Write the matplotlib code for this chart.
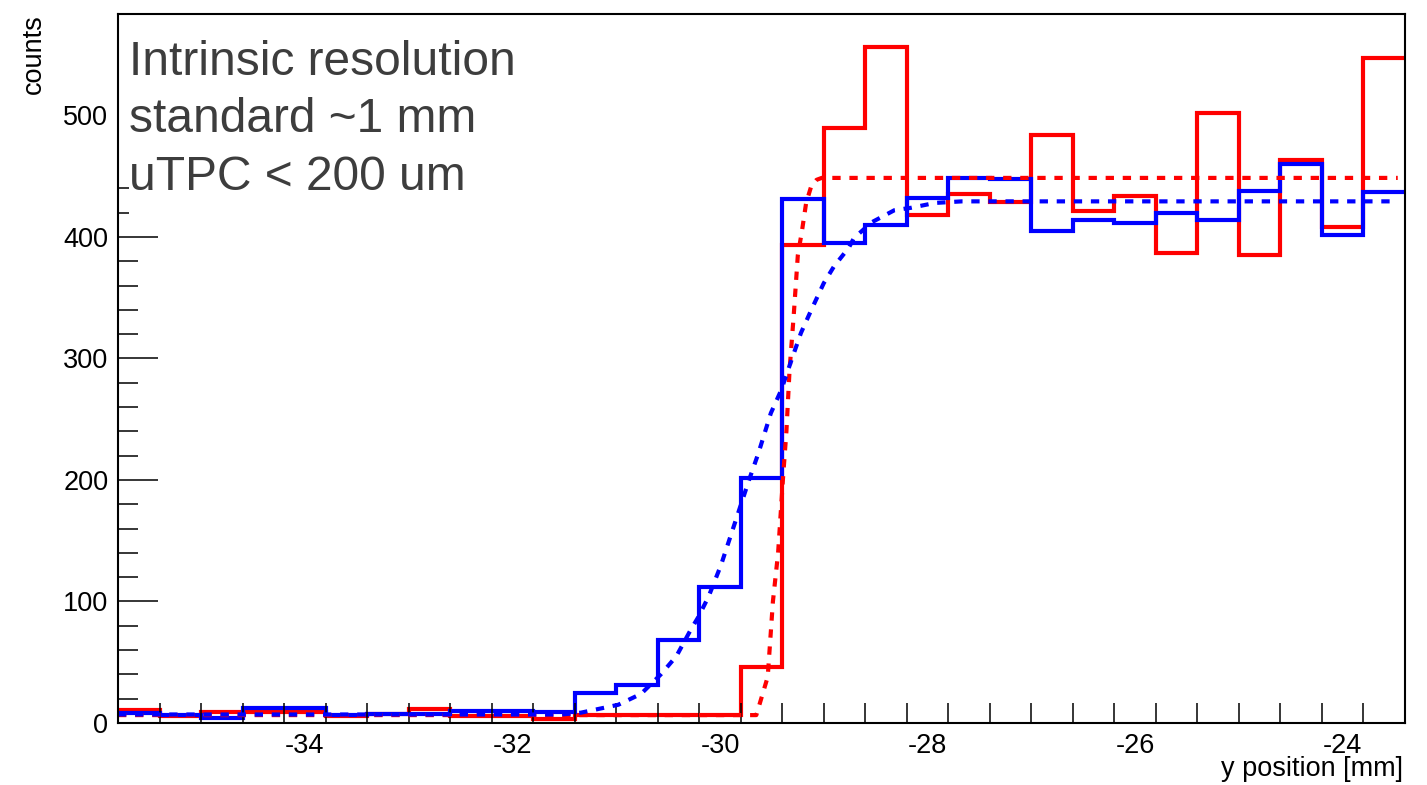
import numpy as np
import matplotlib
matplotlib.use('Agg')
import matplotlib.pyplot as plt
from matplotlib.ticker import FixedLocator, NullFormatter

plt.rcParams['font.family'] = ['Liberation Sans', 'DejaVu Sans']
plt.rcParams['axes.unicode_minus'] = False

# 31 bins of 0.4 mm
bin_edges = np.round(np.arange(-35.8, -23.39, 0.4), 2)

red_counts = [11, 6, 8.7, 8.7, 9, 6, 7, 11.8, 5.5, 5.5, 3.5,
              6.5, 6.5, 6.5, 6.5, 46, 393, 490, 556, 418, 435,
              428.5, 484, 421, 434, 387, 502, 385, 463, 408, 547]
blue_counts = [8.2, 6.5, 4, 12.3, 12.3, 6.5, 7.4, 7.4, 9.6, 10, 8.7,
               24.5, 31, 68.5, 112, 202, 431, 395, 409.5, 432, 448.6,
               447.4, 404.6, 414.2, 411.5, 419.7, 413.7, 438, 460.3, 401.3, 437]

# fit curves
red_fit_x = [-35.8, -29.80, -29.65, -29.54, -29.49, -29.44, -29.39, -29.36, -29.33,
             -29.29, -29.25, -29.21, -29.17, -29.12, -29.07, -29.02, -23.47]
red_fit_y = [6.5, 6.5, 6.5, 38, 100, 140, 205, 240, 290,
             335, 385, 405, 428, 442, 447, 448.6, 448.6]
blue_fit_x = [-35.8, -31.53, -31.34, -30.98, -30.76, -30.57, -30.42, -30.28, -30.21,
              -30.11, -29.99, -29.72, -29.63, -29.51, -29.41, -29.31, -29.22, -29.12,
              -29.00, -28.90, -28.76, -28.71, -28.54, -28.32, -28.16, -27.93, -27.67, -23.47]
blue_fit_y = [7, 7, 8.5, 15, 24, 40, 55, 77, 87,
              104, 130, 200, 222, 255, 274, 299, 321, 340,
              362, 376, 391, 399, 412, 422, 424, 428, 429.3, 429.3]

xtick_vals = [-34, -32, -30, -28, -26, -24]
ytick_vals = [0, 100, 200, 300, 400, 500]
ytick_minor = [20, 40, 60, 80, 120, 140, 160, 180, 220, 240, 260, 280,
               320, 340, 360, 380, 420, 440]
note_lines = ['Intrinsic resolution', 'standard ~1 mm', 'uTPC < 200 um']

fig = plt.figure(figsize=(14.27, 7.85), dpi=100)
ax = fig.add_axes([118/1427, 62/785, 1287/1427, 709/785])

ax.stairs(red_counts, bin_edges, baseline=None, color='#ff0000', lw=3)
ax.stairs(blue_counts, bin_edges, baseline=None, color='#0000ff', lw=3)
ax.plot(red_fit_x, red_fit_y, color='#ff0000', lw=3, ls=(0, (2, 2.1)))
ax.plot(blue_fit_x, blue_fit_y, color='#0000ff', lw=3, ls=(0, (2, 2.1)))

ax.set_xlim(-35.8, -23.4)
ax.set_ylim(0, 583.5)

for s in ax.spines.values():
    s.set_linewidth(1.5)

# x: labels without ticks, ticks at the bin edges
ax.xaxis.set_major_locator(FixedLocator(xtick_vals))
ax.xaxis.set_minor_locator(FixedLocator(list(bin_edges[1:-1])))
ax.xaxis.set_minor_formatter(NullFormatter())
ax.tick_params(axis='x', which='major', length=0, pad=7, labelsize=19.5)
ax.tick_params(axis='x', which='minor', direction='in', length=14.4, width=1.1)

ax.yaxis.set_major_locator(FixedLocator(ytick_vals))
ax.yaxis.set_minor_locator(FixedLocator(ytick_minor))
ax.yaxis.set_minor_formatter(NullFormatter())
ax.tick_params(axis='y', which='major', direction='in', length=28.8, width=1.1,
               pad=7, labelsize=19.5)
ax.tick_params(axis='y', which='minor', direction='in', length=14.4, width=1.1)

# text box hides the upper part of the y ticks
ax.yaxis.get_major_ticks(len(ytick_vals))[-1].tick1line.set_visible(False)
minor_ticks = ax.yaxis.get_minor_ticks(len(ytick_minor))
minor_ticks[-2].tick1line.set_markersize(8)
minor_ticks[-1].tick1line.set_markersize(8)

for i, line in enumerate(note_lines):
    ax.text(0.0085, 1 - (61 + 57.5*i)/709, line, transform=ax.transAxes,
            fontsize=34.5, color='#3d3d3d', ha='left', va='baseline')

fig.text(1403/1427, 9/785, 'y position [mm]', ha='right', va='baseline', fontsize=19.5)
fig.text(34/1427, 1 - 14/785, 'counts', rotation=90, ha='center', va='top', fontsize=19.5)

plt.savefig('out.png', dpi=100)
plt.close()
